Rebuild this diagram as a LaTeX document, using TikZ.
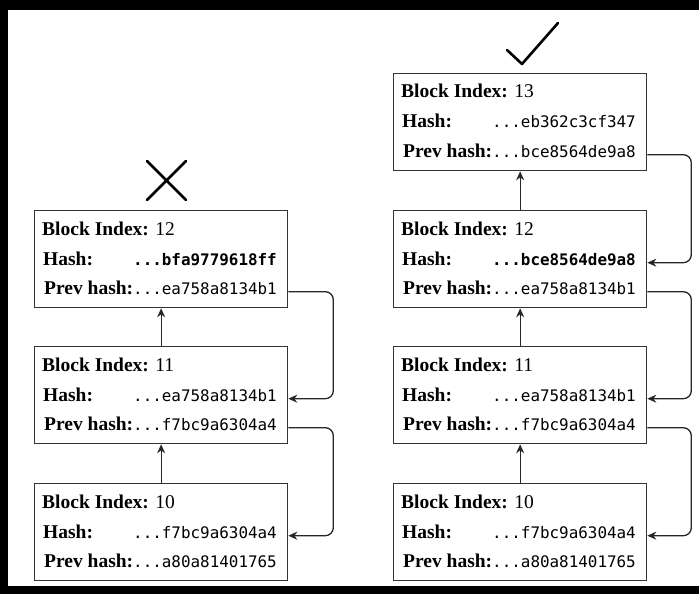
\documentclass[tikz,border=0pt]{standalone}
\usepackage{fontspec}
\setmainfont{Liberation Serif}
\setmonofont{DejaVu Sans Mono}
\usetikzlibrary{arrows.meta,calc,positioning}

\begin{document}
\begin{tikzpicture}[x=1pt,y=-1pt,>={Stealth[length=9pt,width=8pt]},
  block/.style={draw=black!80,line width=1.3pt,anchor=north west,inner sep=0pt,
    minimum width=253pt,minimum height=97pt},
  rowlabel/.style={anchor=base west,inner sep=0pt,font=\fontsize{19.5}{23}\selectfont},
  hashval/.style={anchor=base east,inner sep=0pt,font=\fontsize{15.9}{19}\selectfont\ttfamily},
  link/.style={->,draw=black!85,line width=1.3pt,rounded corners=8pt},
  signline/.style={line width=2.6pt,line cap=round,line join=round}]

  \useasboundingbox (0,0) rectangle (699,594);
  % frame
  \fill (0,0) rectangle (699,10);
  \fill (0,0) rectangle (8,594);
  \fill (0,586) rectangle (699,594);

  % blocks
  \foreach \name/\x/\y/\idx/\wt/\hash/\prev in {
      l12/34/210/12/{\bfseries}/bfa9779618ff/ea758a8134b1,
      l11/34/346/11/{\mdseries}/ea758a8134b1/f7bc9a6304a4,
      l10/34/483/10/{\mdseries}/f7bc9a6304a4/a80a81401765,
      r13/393/73/13/{\mdseries}/eb362c3cf347/bce8564de9a8,
      r12/393/210/12/{\bfseries}/bce8564de9a8/ea758a8134b1,
      r11/393/346/11/{\mdseries}/ea758a8134b1/f7bc9a6304a4,
      r10/393/483/10/{\mdseries}/f7bc9a6304a4/a80a81401765}
  {
    \node[block] (\name) at (\x,\y) {};
    \node[rowlabel] (\name-idx) at ([shift={(8,25)}]\name.north west) {\textbf{Block Index:} \idx};
    \node[rowlabel] (\name-hash) at ([shift={(9,55)}]\name.north west) {\textbf{Hash:}};
    \node[hashval] (\name-hv) at ([shift={(243,55)}]\name.north west) {\wt...\hash};
    \node[rowlabel] (\name-prev) at ([shift={(10,84)}]\name.north west) {\textbf{Prev hash:}};
    \node[hashval] (\name-pv) at ([shift={(243,84)}]\name.north west) {...\prev};
  }

  % chain arrows
  \draw[link] (l11.north) -- (l12.south);
  \draw[link] (l10.north) -- (l11.south);
  \draw[link] (r12.north) -- (r13.south);
  \draw[link] (r11.north) -- (r12.south);
  \draw[link] (r10.north) -- (r11.south);

  % prev hash links
  \draw[link] (l12.east |- l12-pv.mid) -- ++(45,0) |- (l11.east |- l11-hv.mid);
  \draw[link] (l11.east |- l11-pv.mid) -- ++(45,0) |- (l10.east |- l10-hv.mid);
  \draw[link] (r13.east |- r13-pv.mid) -- ++(44,0) |- (r12.east |- r12-hv.mid);
  \draw[link] (r12.east |- r12-pv.mid) -- ++(44,0) |- (r11.east |- r11-hv.mid);
  \draw[link] (r11.east |- r11-pv.mid) -- ++(44,0) |- (r10.east |- r10-hv.mid);

  % verdict marks
  \draw[signline] (147,161) -- (186,200) (186,161) -- (147,200);
  \draw[signline] (507,50) -- (522,64) -- (558,23);
\end{tikzpicture}
\end{document}
